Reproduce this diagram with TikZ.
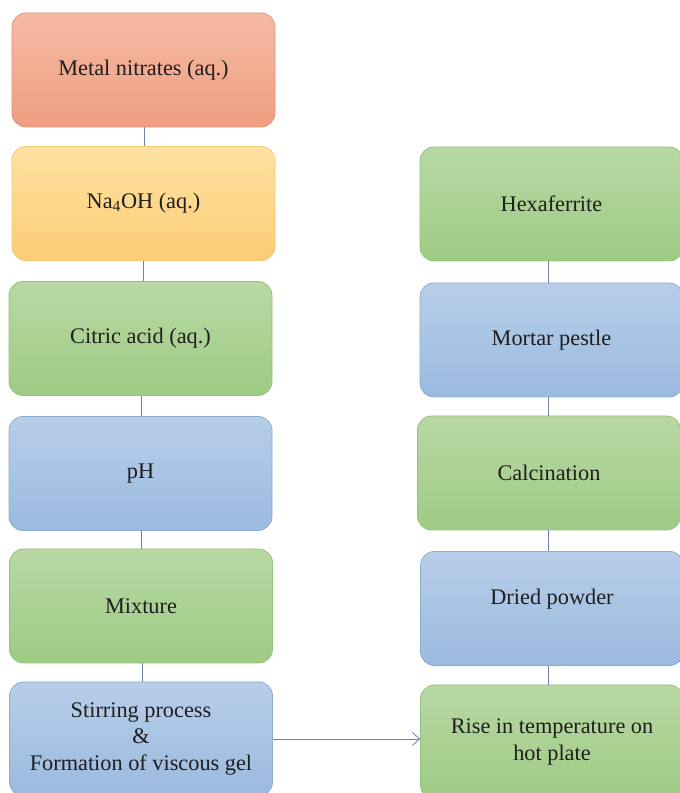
\documentclass[tikz,border=0pt]{standalone}
\usepackage{fontspec}
\setmainfont{Liberation Serif}
\usetikzlibrary{arrows.meta}

% box fills: light top, slightly darker bottom
\definecolor{salmonTop}{RGB}{245,186,164}
\definecolor{salmonBot}{RGB}{239,158,128}
\definecolor{salmonEdge}{RGB}{226,150,122}
\definecolor{yellowTop}{RGB}{255,226,162}
\definecolor{yellowBot}{RGB}{252,204,118}
\definecolor{yellowEdge}{RGB}{240,200,112}
\definecolor{greenTop}{RGB}{184,216,164}
\definecolor{greenBot}{RGB}{158,203,132}
\definecolor{greenEdge}{RGB}{150,192,126}
\definecolor{blueTop}{RGB}{184,206,234}
\definecolor{blueBot}{RGB}{154,186,222}
\definecolor{blueEdge}{RGB}{140,172,208}
\definecolor{linkCol}{RGB}{112,130,170}
\definecolor{inkCol}{RGB}{30,30,30}

\begin{document}
\begin{tikzpicture}[x=1pt,y=1pt,
  stepbox/.style={rounded corners=14pt, minimum width=263pt, minimum height=114pt,
    inner sep=0pt, align=center, text=inkCol, line width=0.8pt,
    font=\fontsize{22.3}{26.5}\selectfont},
  salmonbox/.style={stepbox, draw=salmonEdge, top color=salmonTop, bottom color=salmonBot},
  yellowbox/.style={stepbox, draw=yellowEdge, top color=yellowTop, bottom color=yellowBot},
  greenbox/.style={stepbox, draw=greenEdge, top color=greenTop, bottom color=greenBot},
  bluebox/.style={stepbox, draw=blueEdge, top color=blueTop, bottom color=blueBot},
  link/.style={draw=linkCol, line width=0.8pt},
  flow/.style={link, -{Straight Barb[length=7pt, width=13pt, line width=0.8pt]}}
]
\useasboundingbox (0,0) rectangle (680,793);
\clip (0,0) rectangle (680,793);

% left column
\node[salmonbox] (nitrates) at (143.5,723) {Metal nitrates (aq.)};
\node[yellowbox] (base)     at (143.5,589.5) {Na\textsubscript{4}OH (aq.)};
\node[greenbox]  (citric)   at (140.5,454.5) {Citric acid (aq.)};
\node[bluebox]   (ph)       at (140.5,319.5) {pH};
\node[greenbox]  (mix)      at (141,187) {Mixture};
\node[bluebox]   (stir)     at (141,54) {Stirring process\\\&\\Formation of viscous gel};

% right column
\node[greenbox] (hexa)   at (551.5,589) {Hexaferrite};
\node[bluebox]  (mortar) at (551.5,453) {Mortar pestle};
\node[greenbox] (calc)   at (549,320) {Calcination};
\node[bluebox]  (dried)  at (552,184.5) {\raisebox{24pt}{Dried powder}};
\node[greenbox] (rise)   at (552,51) {Rise in temperature on\\hot plate};

% connectors
\draw[link] (nitrates.south -| 144,0) -- (base.north -| 144,0);
\draw[link] (base.south -| 143,0) -- (citric.north -| 143,0);
\draw[link] (citric.south -| 141,0) -- (ph.north -| 141,0);
\draw[link] (ph.south -| 141,0) -- (mix.north -| 141,0);
\draw[link] (mix.south -| 142,0) -- (stir.north -| 142,0);

\draw[link] (hexa.south -| 548,0) -- (mortar.north -| 548,0);
\draw[link] (mortar.south -| 548,0) -- (calc.north -| 548,0);
\draw[link] (calc.south -| 548,0) -- (dried.north -| 548,0);
\draw[link] (dried.south -| 548,0) -- (rise.north -| 548,0);

\draw[flow] (stir.east) coordinate (a) -- (rise.west |- a);
\end{tikzpicture}
\end{document}
